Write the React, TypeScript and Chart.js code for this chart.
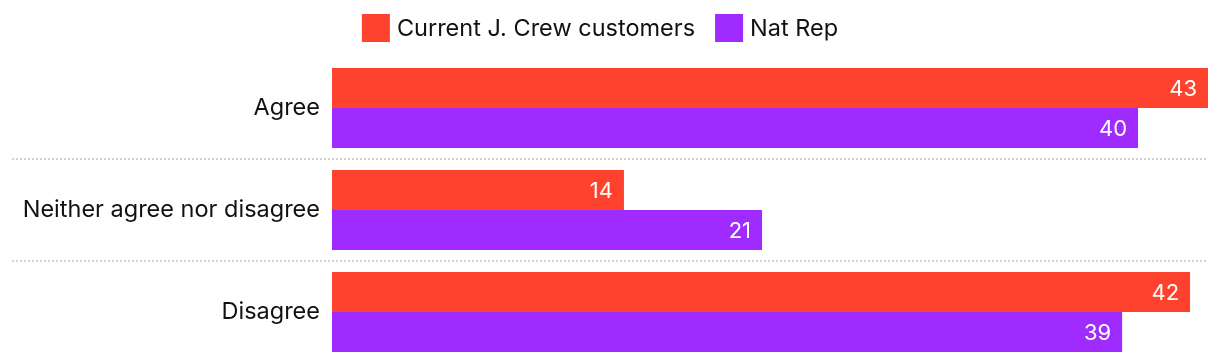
import React, { useEffect, useRef } from "react";
import { Chart, registerables } from "chart.js";

Chart.register(...registerables);

const categories = ["Agree", "Neither agree nor disagree", "Disagree"];
const seriesNames = ["Current J. Crew customers", "Nat Rep"];
const jcrewValues = [42.94, 14.31, 42.06];
const natRepValues = [39.51, 21.08, 38.73];
const seriesColors = ["#FF422D", "#A02BFF"];

const FONT = "Inter, 'Noto Sans', sans-serif";
const TEXT_SIZE = 23.5;

const separatorPlugin = {
  id: "separators",
  beforeDatasetsDraw(chart: any) {
    const y = chart.scales.y;
    const ctx = chart.ctx;
    ctx.save();
    ctx.strokeStyle = "#d2d2d2";
    ctx.lineWidth = 2;
    ctx.setLineDash([2, 2]);
    for (let i = 0; i < categories.length - 1; i++) {
      const py = Math.round((y.getPixelForValue(i) + y.getPixelForValue(i + 1)) / 2);
      ctx.beginPath();
      ctx.moveTo(12, py);
      ctx.lineTo(chart.chartArea.right, py);
      ctx.stroke();
    }
    ctx.restore();
  },
};

const valueLabelPlugin = {
  id: "valueLabels",
  afterDatasetsDraw(chart: any) {
    const ctx = chart.ctx;
    ctx.save();
    ctx.fillStyle = "#ffffff";
    ctx.font = `22px ${FONT}`;
    ctx.textAlign = "right";
    ctx.textBaseline = "middle";
    chart.data.datasets.forEach((ds: any, di: number) => {
      const meta = chart.getDatasetMeta(di);
      meta.data.forEach((bar: any, i: number) => {
        const v = ds.data[i];
        ctx.fillText(String(Math.round(v)), bar.x - 11, bar.y + 1);
      });
    });
    ctx.restore();
  },
};

const legendPlugin = {
  id: "customLegend",
  afterDraw(chart: any) {
    const ctx = chart.ctx;
    const box = 28;
    const gapText = 7;
    const gapItem = 20;
    const top = 14;
    ctx.save();
    ctx.font = `${TEXT_SIZE}px ${FONT}`;
    const items = chart.data.datasets.map((ds: any) => ({
      text: ds.label,
      color: ds.backgroundColor,
      w: ctx.measureText(ds.label).width,
    }));
    const total =
      items.reduce((s: number, it: any) => s + box + gapText + it.w, 0) + gapItem * (items.length - 1);
    let x = chart.width / 2 - 10 - total / 2;
    ctx.textBaseline = "middle";
    ctx.textAlign = "left";
    items.forEach((it: any) => {
      ctx.fillStyle = it.color;
      ctx.fillRect(x, top, box, box);
      ctx.fillStyle = "#111111";
      ctx.fillText(it.text, x + box + gapText, top + box / 2 + 1);
      x += box + gapText + it.w + gapItem;
    });
    ctx.restore();
  },
};

export default function App() {
  const ref = useRef<HTMLCanvasElement | null>(null);
  useEffect(() => {
    document.body.style.margin = "0";
    const canvas = ref.current;
    if (!canvas) return;
    const maxV = Math.max(...jcrewValues, ...natRepValues);
    const chart = new Chart(canvas, {
      type: "bar",
      data: {
        labels: categories,
        datasets: [
          {
            label: seriesNames[0],
            data: jcrewValues,
            backgroundColor: seriesColors[0],
            categoryPercentage: 0.784,
            barPercentage: 1,
          },
          {
            label: seriesNames[1],
            data: natRepValues,
            backgroundColor: seriesColors[1],
            categoryPercentage: 0.784,
            barPercentage: 1,
          },
        ],
      },
      options: {
        indexAxis: "y",
        animation: false,
        responsive: false,
        maintainAspectRatio: false,
        layout: { padding: { left: 0, right: 12, top: 57, bottom: 1 } },
        plugins: {
          legend: { display: false },
          tooltip: { enabled: false },
        },
        scales: {
          x: {
            min: 0,
            max: maxV,
            display: false,
            grid: { display: false },
          },
          y: {
            grid: { display: false, drawTicks: false },
            border: { display: false },
            afterFit: (scale: any) => {
              scale.width = 332;
              scale.paddingTop = 0;
              scale.paddingBottom = 0;
            },
            ticks: {
              padding: 12,
              color: "#111111",
              font: { family: FONT, size: TEXT_SIZE },
            },
          },
        },
      },
      plugins: [separatorPlugin, valueLabelPlugin, legendPlugin],
    });
    return () => chart.destroy();
  }, []);
  return <canvas ref={ref} width={1220} height={364} style={{ display: "block" }} />;
}
